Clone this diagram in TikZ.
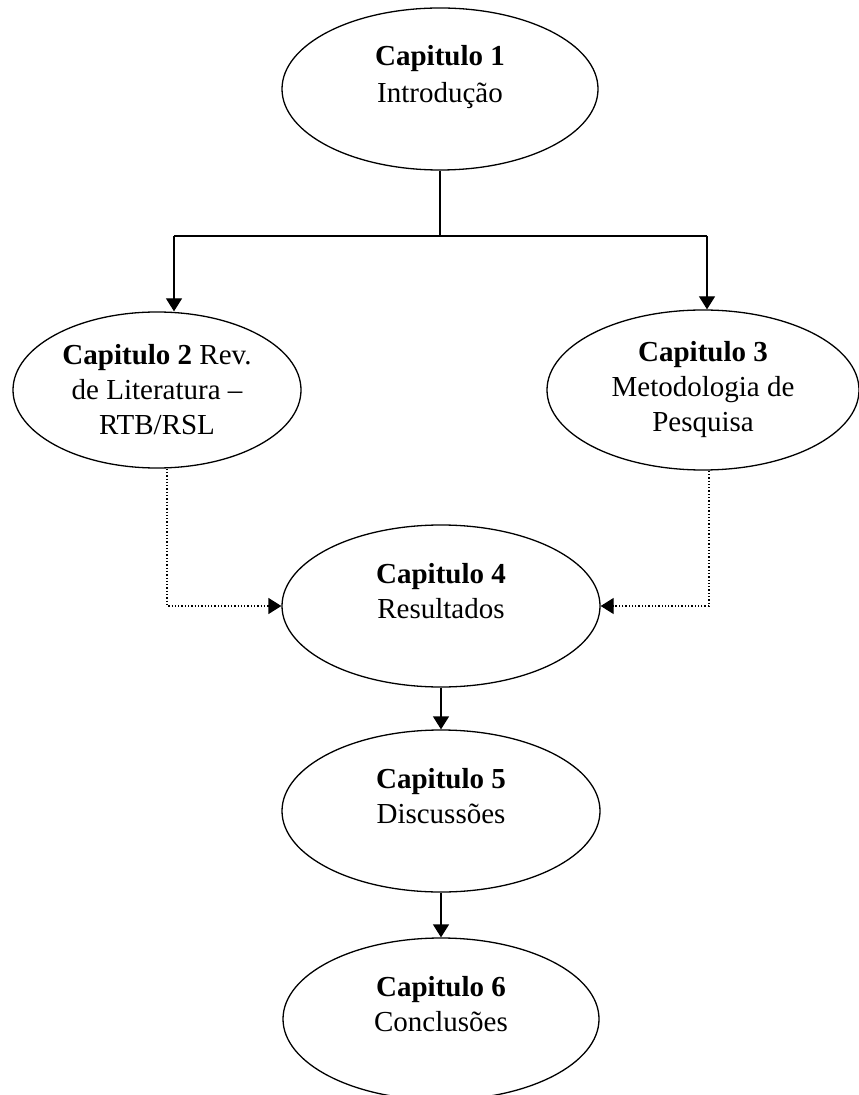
\documentclass[tikz,border=0pt]{standalone}
\usepackage{fontspec}
\setmainfont{Liberation Serif}
\usetikzlibrary{shapes, arrows.meta, positioning}

\begin{document}
\begin{tikzpicture}[x=0.5pt, y=-0.5pt, >={Triangle[length=6.5pt, width=8pt]}, line width=0.65pt,
  chapter/.style={ellipse, draw, inner sep=0pt, align=center, font=\fontsize{14.5pt}{17.5pt}\selectfont},
  chapterup/.style={chapter, text depth=15pt}]

\useasboundingbox (0,0) rectangle (858,1095);

\node [chapterup, minimum width=158pt, minimum height=81pt] (cap1) at (440,89) {\textbf{Capitulo 1}\\[1pt] Introdução};
\node [chapter, minimum width=144pt, minimum height=78pt] (cap2) at (157,390) {\textbf{Capitulo 2} Rev.\\ de Literatura --\\ RTB/RSL};
\node [chapter, minimum width=156pt, minimum height=80pt] (cap3) at (703,390) {\textbf{Capitulo 3}\\ Metodologia de\\ Pesquisa};
\node [chapterup, minimum width=159pt, minimum height=81pt] (cap4) at (441,606) {\textbf{Capitulo 4}\\ Resultados};
\node [chapterup, minimum width=159pt, minimum height=81pt] (cap5) at (441,811) {\textbf{Capitulo 5}\\ Discussões};
\node [chapterup, minimum width=158pt, minimum height=81pt] (cap6) at (441,1019) {\textbf{Capitulo 6}\\ Conclusões};

\coordinate (split) at (440,236);
\coordinate (leftend) at (174,236);
\coordinate (rightend) at (707,236);
\coordinate (dotl) at (167,606);
\coordinate (dotr) at (709,606);

\draw (cap1) -- (split);
\draw (leftend) -- (rightend);
\draw [->] (leftend) -- (leftend |- cap2.north);
\draw [->] (rightend) -- (rightend |- cap3.north);
\draw [->, densely dotted] (cap2.south -| dotl) -- (dotl) -- (cap4.west);
\draw [->, densely dotted] (cap3.south -| dotr) -- (dotr) -- (cap4.east);
\draw [->] (cap4) -- (cap5);
\draw [->] (cap5) -- (cap6);

\end{tikzpicture}
\end{document}
